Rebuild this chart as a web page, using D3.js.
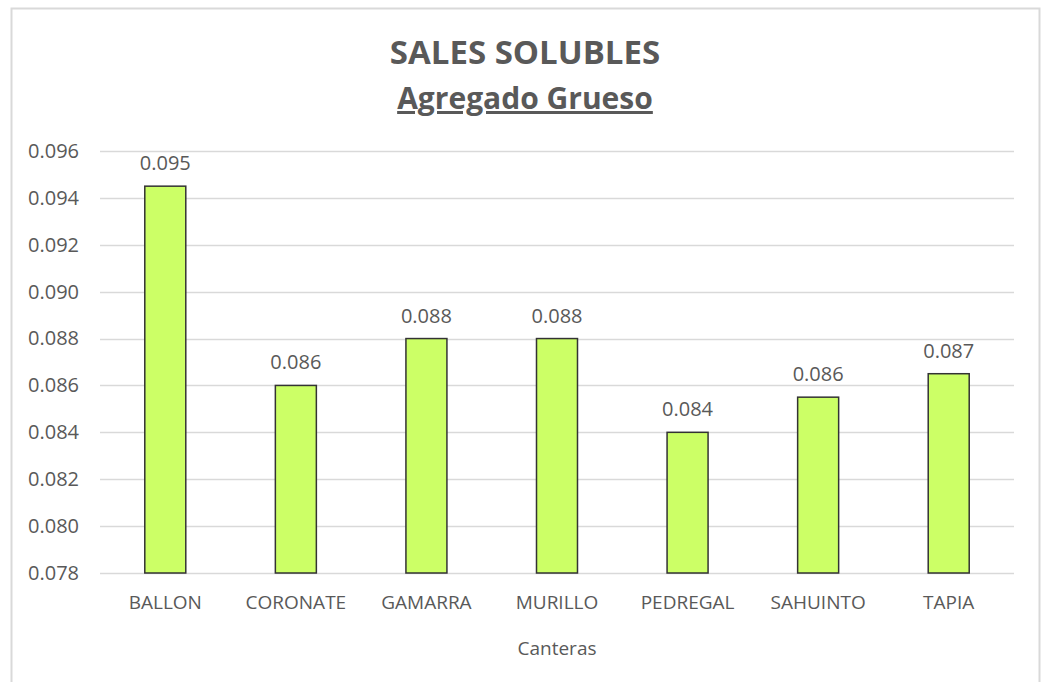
<!DOCTYPE html>
<html lang="es">
<head>
<meta charset="UTF-8">
<title>Sales Solubles</title>
<style>
  body { margin: 0; background: #fff; }
  svg text { font-family: "Open Sans", sans-serif; fill: #595959; }
</style>
</head>
<body>
<div id="chart"></div>
<script src="https://cdn.jsdelivr.net/npm/d3@7"></script>
<script>
const canteras = ["BALLON", "CORONATE", "GAMARRA", "MURILLO", "PEDREGAL", "SAHUINTO", "TAPIA"];
const valores = [0.0945, 0.086, 0.088, 0.088, 0.084, 0.0855, 0.0865];
const yTicks = [0.078, 0.080, 0.082, 0.084, 0.086, 0.088, 0.090, 0.092, 0.094, 0.096];

const width = 1044, height = 682;
const margin = {top: 151, right: 30, bottom: 109, left: 100};

const svg = d3.select("#chart").append("svg")
    .attr("width", width)
    .attr("height", height);

// chart frame
svg.append("rect")
    .attr("x", 11.5).attr("y", 8.5)
    .attr("width", 1028).attr("height", 700)
    .attr("fill", "none")
    .attr("stroke", "#d9d9d9")
    .attr("stroke-width", 2);

const x = d3.scaleBand()
    .domain(canteras)
    .range([margin.left, width - margin.right])
    .paddingInner(0.686)
    .paddingOuter(0.343);

const y = d3.scaleLinear()
    .domain([0.078, 0.096])
    .range([height - margin.bottom, margin.top]);

// gridlines
svg.append("g")
    .selectAll("line")
    .data(yTicks)
    .join("line")
    .attr("x1", margin.left).attr("x2", width - margin.right)
    .attr("y1", d => Math.round(y(d)) + 0.5).attr("y2", d => Math.round(y(d)) + 0.5)
    .attr("stroke", "#d9d9d9")
    .attr("stroke-width", 1.5);

// y axis labels
const yAxis = d3.axisLeft(y).tickValues(yTicks).tickFormat(d3.format(".3f")).tickSize(0).tickPadding(21);
svg.append("g")
    .attr("transform", `translate(${margin.left},0)`)
    .call(yAxis)
    .call(g => g.select(".domain").remove())
    .selectAll("text")
    .attr("font-size", 20)
    .attr("fill", "#595959");

// bars
svg.append("g")
    .selectAll("rect")
    .data(canteras)
    .join("rect")
    .attr("x", d => x(d))
    .attr("width", x.bandwidth())
    .attr("y", (d, i) => y(valores[i]))
    .attr("height", (d, i) => y(0.078) - y(valores[i]))
    .attr("fill", "#ccff66")
    .attr("stroke", "#333")
    .attr("stroke-width", 1.5);

// data labels
svg.append("g")
    .selectAll("text")
    .data(canteras)
    .join("text")
    .attr("x", d => x(d) + x.bandwidth() / 2)
    .attr("y", (d, i) => y(valores[i]) - 16)
    .attr("text-anchor", "middle")
    .attr("font-size", 20)
    .text((d, i) => d3.format(".3f")(valores[i] + 1e-9));

// x axis
const xAxis = d3.axisBottom(x).tickSize(0).tickPadding(23);
svg.append("g")
    .attr("transform", `translate(0,${height - margin.bottom})`)
    .call(xAxis)
    .call(g => g.select(".domain").remove())
    .selectAll("text")
    .attr("font-size", 19)
    .attr("fill", "#595959");

// axis title
svg.append("text")
    .attr("x", (margin.left + width - margin.right) / 2)
    .attr("y", 655)
    .attr("text-anchor", "middle")
    .attr("font-size", 19)
    .text("Canteras");

// titles
svg.append("text")
    .attr("x", 525).attr("y", 64)
    .attr("text-anchor", "middle")
    .attr("font-size", 33)
    .attr("font-weight", "bold")
    .text("SALES SOLUBLES");

svg.append("text")
    .attr("x", 525).attr("y", 109)
    .attr("text-anchor", "middle")
    .attr("font-size", 30)
    .attr("font-weight", "bold")
    .attr("text-decoration", "underline")
    .text("Agregado Grueso");
</script>
</body>
</html>
